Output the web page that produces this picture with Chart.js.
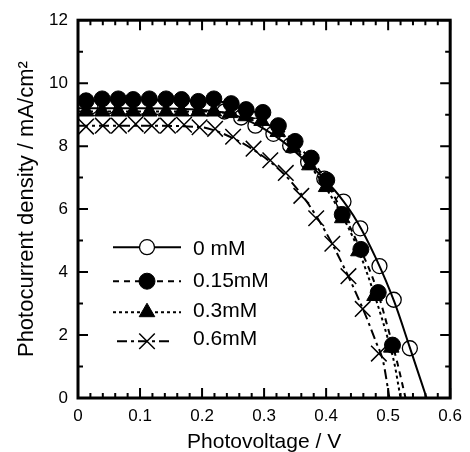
<!DOCTYPE html>
<html>
<head>
<meta charset="utf-8">
<script src="https://cdn.jsdelivr.net/npm/chart.js@4/dist/chart.umd.min.js"></script>
<style>
  html, body { margin: 0; padding: 0; background: #fff; }
  canvas { display: block; }
</style>
</head>
<body>
<canvas id="jv" width="470" height="452"></canvas>
<script>
// Series names (additive concentration)
const seriesNames = ['0 mM', '0.15mM', '0.3mM', '0.6mM'];

// Measured J–V points (photovoltage in V, photocurrent density in mA/cm2)
const measV0  = [0.020, 0.047, 0.074, 0.101, 0.128, 0.155, 0.182, 0.209, 0.236, 0.263, 0.286, 0.315, 0.342, 0.371, 0.397, 0.428, 0.455, 0.486, 0.509, 0.535];
const measJ0  = [9.25, 9.25, 9.25, 9.25, 9.25, 9.25, 9.20, 9.20, 9.10, 8.91, 8.65, 8.39, 8.02, 7.50, 6.97, 6.24, 5.39, 4.19, 3.12, 1.58];

const measV15 = [0.013, 0.039, 0.065, 0.089, 0.115, 0.142, 0.167, 0.194, 0.219, 0.247, 0.271, 0.298, 0.323, 0.350, 0.376, 0.401, 0.426, 0.456, 0.484, 0.507];
const measJ15 = [9.44, 9.50, 9.50, 9.48, 9.50, 9.50, 9.48, 9.42, 9.50, 9.35, 9.16, 9.07, 8.65, 8.15, 7.62, 6.92, 5.83, 4.72, 3.35, 1.68];

const measV3  = [0.013, 0.039, 0.065, 0.089, 0.115, 0.142, 0.167, 0.194, 0.219, 0.245, 0.270, 0.296, 0.322, 0.347, 0.373, 0.400, 0.426, 0.452, 0.478, 0.505];
const measJ3  = [9.10, 9.10, 9.10, 9.10, 9.10, 9.10, 9.10, 9.10, 9.10, 9.05, 8.95, 8.80, 8.45, 7.95, 7.39, 6.70, 5.71, 4.66, 3.24, 1.60];

const measV6  = [0.013, 0.040, 0.066, 0.093, 0.119, 0.145, 0.171, 0.196, 0.221, 0.250, 0.283, 0.310, 0.335, 0.360, 0.384, 0.410, 0.436, 0.459, 0.485];
const measJ6  = [8.62, 8.65, 8.65, 8.70, 8.65, 8.65, 8.68, 8.60, 8.55, 8.30, 7.92, 7.55, 7.15, 6.42, 5.71, 4.90, 3.87, 2.83, 1.41];

// Fitted curves
const fitV0  = [0, 0.10, 0.20, 0.24, 0.27, 0.30, 0.33, 0.36, 0.39, 0.42, 0.45, 0.48, 0.51, 0.535, 0.562];
const fitJ0  = [9.20, 9.20, 9.15, 9.05, 8.85, 8.55, 8.15, 7.65, 7.10, 6.45, 5.60, 4.45, 3.05, 1.60, 0];

const fitV15 = [0, 0.10, 0.20, 0.24, 0.27, 0.30, 0.33, 0.36, 0.39, 0.42, 0.45, 0.48, 0.50, 0.515, 0.528];
const fitJ15 = [9.45, 9.45, 9.45, 9.38, 9.20, 8.95, 8.50, 7.90, 7.20, 6.15, 4.95, 3.55, 2.20, 1.10, 0];

const fitV3  = [0, 0.10, 0.20, 0.24, 0.27, 0.30, 0.33, 0.36, 0.39, 0.42, 0.45, 0.48, 0.50, 0.51, 0.52];
const fitJ3  = [9.10, 9.10, 9.10, 9.05, 8.95, 8.75, 8.35, 7.70, 6.95, 6.00, 4.80, 3.15, 1.85, 1.10, 0];

const fitV6  = [0, 0.10, 0.20, 0.22, 0.25, 0.28, 0.31, 0.34, 0.37, 0.40, 0.43, 0.46, 0.48, 0.492, 0.502];
const fitJ6  = [8.65, 8.65, 8.60, 8.50, 8.25, 7.92, 7.50, 6.95, 6.20, 5.25, 4.10, 2.80, 1.80, 1.15, 0];

// Axis ticks
const xTickValues = [0, 0.1, 0.2, 0.3, 0.4, 0.5, 0.6];
const xTickLabels = ['0', '0.1', '0.2', '0.3', '0.4', '0.5', '0.6'];
const yTickValues = [0, 2, 4, 6, 8, 10, 12];
const yTickLabels = ['0', '2', '4', '6', '8', '10', '12'];

const FONT = "'Liberation Sans', Arial, Helvetica, sans-serif";
const pts = (vs, js) => vs.map((v, i) => ({ x: v, y: js[i] }));

// Line dash patterns per series
const dashes = [[], [6, 5], [3, 3], [10, 4, 3, 4]];

function lineSet(vs, js, dash, order) {
  return {
    data: pts(vs, js), showLine: true, pointRadius: 0, borderColor: '#000',
    borderWidth: 2, borderDash: dash, cubicInterpolationMode: 'monotone',
    fill: false, order: order
  };
}
function markSet(vs, js, style, order) {
  return Object.assign({ data: pts(vs, js), showLine: false, order: order }, style);
}

// Marker styles per series
const markStyles = [
  { pointStyle: 'circle', pointRadius: 7.5, pointBackgroundColor: '#fff', pointBorderColor: '#000', pointBorderWidth: 1.3 },
  { pointStyle: 'circle', pointRadius: 8, pointBackgroundColor: '#000', pointBorderColor: '#000', pointBorderWidth: 1 },
  { pointStyle: 'triangle', pointRadius: 9, pointBackgroundColor: '#000', pointBorderColor: '#000', pointBorderWidth: 1 },
  { pointStyle: 'crossRot', pointRadius: 11, pointBackgroundColor: '#000', pointBorderColor: '#000', pointBorderWidth: 1.5 }
];

function drawMarker(ctx, kind, x, y) {
  const s = markStyles[kind];
  const r = s.pointRadius;
  ctx.save();
  ctx.setLineDash([]);
  ctx.lineWidth = s.pointBorderWidth;
  ctx.strokeStyle = '#000';
  ctx.fillStyle = s.pointBackgroundColor;
  ctx.beginPath();
  if (s.pointStyle === 'circle') {
    ctx.arc(x, y, r, 0, Math.PI * 2);
    ctx.fill(); ctx.stroke();
  } else if (s.pointStyle === 'triangle') {
    for (let k = 0; k < 3; k++) {
      const a = k * 2 * Math.PI / 3;
      const px = x + Math.sin(a) * r, py = y - Math.cos(a) * r;
      if (k === 0) ctx.moveTo(px, py); else ctx.lineTo(px, py);
    }
    ctx.closePath(); ctx.fill(); ctx.stroke();
  } else {
    const d = r * Math.SQRT1_2;
    ctx.moveTo(x - d, y - d); ctx.lineTo(x + d, y + d);
    ctx.moveTo(x - d, y + d); ctx.lineTo(x + d, y - d);
    ctx.stroke();
  }
  ctx.restore();
}

// Boxed frame with inward ticks on all four sides, plus the key
const frameAndKey = {
  id: 'frameAndKey',
  afterDatasetsDraw(chart) {
    const { ctx, chartArea: a, scales: { x, y } } = chart;
    ctx.save();
    ctx.strokeStyle = '#000';
    ctx.lineWidth = 2;
    ctx.lineCap = 'butt';
    ctx.beginPath();
    for (let k = 0; k <= 30; k++) {
      const px = x.getPixelForValue(k * 0.02);
      const len = k % 5 === 0 ? 10 : 5;
      ctx.moveTo(px, a.bottom); ctx.lineTo(px, a.bottom - len);
      ctx.moveTo(px, a.top); ctx.lineTo(px, a.top + len);
    }
    for (let k = 0; k <= 12; k++) {
      const py = y.getPixelForValue(k);
      const len = k % 2 === 0 ? 10 : 5;
      ctx.moveTo(a.left, py); ctx.lineTo(a.left + len, py);
      ctx.moveTo(a.right, py); ctx.lineTo(a.right - len, py);
    }
    ctx.stroke();
    ctx.lineWidth = 3;
    ctx.strokeRect(a.left, a.top, a.right - a.left, a.bottom - a.top);

    // key
    const lineY = [227, 261, 292, 321];
    const textY = [229, 261, 291, 319];
    const lineStart = [35, 35, 35, 39];
    const lineEnd = [103, 103, 103, 92];
    for (let i = 0; i < seriesNames.length; i++) {
      const yy = a.top + lineY[i];
      ctx.save();
      ctx.lineWidth = 2;
      ctx.setLineDash(dashes[i]);
      ctx.beginPath();
      ctx.moveTo(a.left + lineStart[i], yy);
      ctx.lineTo(a.left + lineEnd[i], yy);
      ctx.stroke();
      ctx.restore();
      drawMarker(ctx, i, a.left + 69, yy);
      ctx.fillStyle = '#000';
      ctx.font = '21px ' + FONT;
      ctx.textBaseline = 'middle';
      ctx.textAlign = 'left';
      ctx.fillText(seriesNames[i], a.left + 115, a.top + textY[i]);
    }
    ctx.restore();
  }
};

new Chart(document.getElementById('jv'), {
  type: 'scatter',
  data: {
    datasets: [
      lineSet(fitV0, fitJ0, dashes[0], 0),
      lineSet(fitV15, fitJ15, dashes[1], 1),
      lineSet(fitV3, fitJ3, dashes[2], 2),
      lineSet(fitV6, fitJ6, dashes[3], 3),
      markSet(measV15, measJ15, markStyles[1], 4),
      markSet(measV3, measJ3, markStyles[2], 5),
      markSet(measV6, measJ6, markStyles[3], 6),
      markSet(measV0, measJ0, markStyles[0], 7)
    ]
  },
  options: {
    responsive: false,
    animation: false,
    events: [],
    layout: { padding: { top: 18, right: 13, left: 0, bottom: 0 } },
    plugins: { legend: { display: false }, tooltip: { enabled: false } },
    scales: {
      x: {
        type: 'linear', min: 0, max: 0.6,
        afterBuildTicks: s => { s.ticks = xTickValues.map(v => ({ value: v })); },
        afterFit: s => { s.height = 54; },
        grid: { display: false, drawTicks: false },
        border: { display: false },
        ticks: {
          autoSkip: false, maxRotation: 0, padding: 8, color: '#000',
          font: { family: FONT, size: 17 },
          callback: (v, i) => xTickLabels[i]
        },
        title: {
          display: true, text: 'Photovoltage / V', color: '#000',
          font: { family: FONT, size: 21, lineHeight: 0.9 },
          padding: { top: 0, bottom: 0 }
        }
      },
      y: {
        type: 'linear', min: 0, max: 12,
        afterBuildTicks: s => { s.ticks = yTickValues.map(v => ({ value: v })); },
        afterFit: s => { s.width = 78; },
        grid: { display: false, drawTicks: false },
        border: { display: false },
        ticks: {
          autoSkip: false, padding: 10, color: '#000',
          font: { family: FONT, size: 17 },
          callback: (v, i) => yTickLabels[i]
        },
        title: {
          display: true, text: 'Photocurrent density / mA/cm\u00B2', color: '#000',
          font: { family: FONT, size: 22, lineHeight: 1.2 },
          padding: { top: 14, bottom: 0 }
        }
      }
    }
  },
  plugins: [frameAndKey]
});
</script>
</body>
</html>
